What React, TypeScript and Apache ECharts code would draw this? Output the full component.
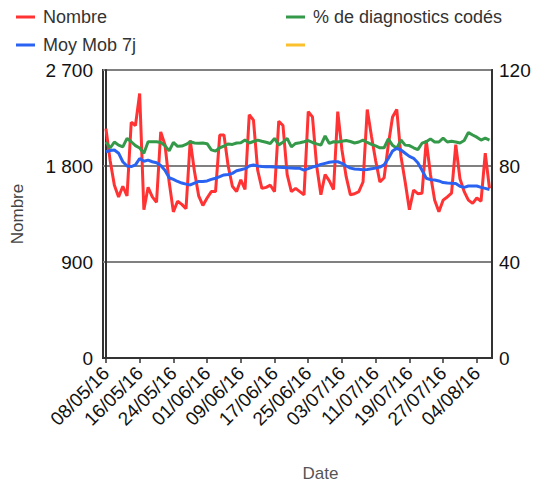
import React, { useEffect, useRef } from "react";
import * as echarts from "echarts";

// Daily counts ("Nombre"), from 08/05/16 to 07/08/16
const nombre = [
  2150, 1850, 1620, 1510, 1610, 1520, 2210, 2180, 2480, 1390,
  1600, 1510, 1460, 2120, 2000, 1650, 1370, 1470, 1440, 1400,
  2040, 1750, 1520, 1430, 1500, 1560, 1560, 2090, 2090, 1800,
  1610, 1560, 1670, 1580, 2280, 2230, 1760, 1590, 1600, 1620,
  1560, 2220, 2180, 1720, 1560, 1590, 1560, 1530, 2310, 2260,
  1800, 1530, 1720, 1660, 1580, 2310, 1950, 1700, 1530, 1540,
  1560, 1650, 2330, 2080, 1850, 1650, 1690, 2000, 2260, 2330,
  1890, 1650, 1390, 1575, 1540, 1545, 2040, 1720, 1480, 1370,
  1480, 1510, 1545, 2000, 1680, 1560, 1480, 1450, 1500, 1470,
  1920, 1590,
];

// 7-day moving average ("Moy Mob 7j")
const moyMob = [
  1934, 1945, 1950, 1920, 1840, 1800, 1795, 1810, 1870, 1845,
  1855, 1840, 1830, 1805, 1760, 1690, 1675, 1655, 1640, 1630,
  1622, 1640, 1655, 1655, 1660, 1675, 1685, 1700, 1716, 1720,
  1731, 1755, 1765, 1775, 1800, 1810, 1800, 1795, 1794, 1792,
  1790, 1788, 1787, 1784, 1782, 1780, 1778, 1762, 1775, 1790,
  1800, 1815, 1825, 1835, 1840, 1840, 1825, 1800, 1780, 1772,
  1770, 1765, 1768, 1775, 1780, 1790, 1810, 1870, 1940, 1966,
  1950, 1920, 1890, 1872, 1830, 1760, 1685, 1672, 1668, 1660,
  1645, 1640, 1638, 1637, 1610, 1600, 1612, 1612, 1612, 1600,
  1590, 1580,
];

// % de diagnostics codés (right axis)
const pctCodes = [
  90.0, 87.5, 90.0, 88.7, 88.0, 91.5, 90.1, 88.5, 87.5, 85.3,
  90.1, 90.1, 90.1, 89.8, 88.5, 86.3, 89.8, 88.2, 88.3, 89.0,
  90.1, 89.6, 89.5, 89.6, 89.3, 86.7, 86.2, 87.6, 88.3, 89.2,
  89.0, 89.6, 89.7, 90.8, 89.6, 90.2, 90.8, 90.3, 89.9, 89.4,
  91.5, 88.8, 89.9, 91.5, 88.0, 89.4, 89.7, 90.1, 90.6, 89.8,
  89.2, 88.7, 92.5, 89.4, 90.1, 90.0, 90.3, 90.6, 90.2, 89.6,
  90.0, 90.8, 89.8, 89.0, 88.4, 87.6, 87.6, 91.3, 88.6, 87.4,
  90.8, 88.7, 88.5, 87.6, 86.8, 89.5, 90.1, 91.3, 90.0, 90.0,
  91.6, 90.0, 90.3, 90.0, 89.6, 90.6, 94.0, 92.9, 92.0, 90.8,
  91.6, 90.8,
];

// Tick labels every 8 days (day index from 08/05/16)
const tickIndex = [0, 8, 16, 24, 32, 40, 48, 56, 64, 72, 80, 88];
const tickLabels = [
  "08/05/16", "16/05/16", "24/05/16", "01/06/16", "09/06/16", "17/06/16",
  "25/06/16", "03/07/16", "11/07/16", "19/07/16", "27/07/16", "04/08/16",
];

const leftTicks = [0, 900, 1800, 2700];
const rightTicks = [0, 40, 80, 120];

const FONT = "'Liberation Sans', Arial, sans-serif";

export default function App() {
  const ref = useRef<HTMLDivElement>(null);

  useEffect(() => {
    if (!ref.current) return;
    const chart = echarts.init(ref.current, null, { renderer: "svg" });
    const toPairs = (arr: number[]) => arr.map((v, i) => [i, v]);
    const fmtThousands = (v: number) =>
      String(v).replace(/\B(?=(\d{3})+(?!\d))/g, " ");

    const legendText = {
      fontSize: 18,
      color: "#333",
      fontFamily: FONT,
      lineHeight: 20,
      padding: [0, 0, 0, 3],
    };

    chart.setOption({
      animation: false,
      backgroundColor: "#fff",
      textStyle: { fontFamily: FONT },
      legend: [
        {
          orient: "vertical",
          left: 16,
          top: 7,
          padding: 0,
          itemWidth: 19,
          itemHeight: 3,
          itemGap: 8,
          icon: "rect",
          data: ["Nombre", "Moy Mob 7j"],
          textStyle: legendText,
        },
        {
          orient: "vertical",
          left: 286,
          top: 7,
          padding: 0,
          itemWidth: 19,
          itemHeight: 3,
          itemGap: 8,
          icon: "rect",
          data: ["% de diagnostics codés", " "],
          textStyle: legendText,
        },
      ],
      grid: {
        left: 103,
        right: 43,
        top: 70,
        bottom: 129,
        show: true,
        borderColor: "#333",
        borderWidth: 2,
        containLabel: false,
        outerBoundsMode: "none",
      },
      xAxis: {
        type: "value",
        min: -0.7,
        max: 91.6,
        name: "Date",
        nameLocation: "middle",
        nameGap: 107,
        nameTextStyle: {
          fontSize: 17,
          color: "#555",
          fontFamily: FONT,
          padding: [0, 0, 0, 46],
        },
        splitLine: { show: false },
        axisLine: { show: true, lineStyle: { color: "#333", width: 2 } },
        axisTick: {
          show: true,
          length: 5,
          customValues: tickIndex,
          lineStyle: { color: "#333", width: 1.5 },
        },
        axisLabel: {
          customValues: tickIndex,
          rotate: 45,
          margin: 12,
          fontSize: 19,
          color: "#111",
          fontFamily: FONT,
          formatter: (v: number) => tickLabels[tickIndex.indexOf(Math.round(v))] ?? "",
        },
      },
      yAxis: [
        {
          type: "value",
          min: leftTicks[0],
          max: leftTicks[leftTicks.length - 1],
          interval: 900,
          name: "Nombre",
          nameLocation: "middle",
          nameGap: 77,
          nameTextStyle: { fontSize: 17, color: "#444", fontFamily: FONT },
          axisLine: { show: true, lineStyle: { color: "#333", width: 2 } },
          axisTick: { show: false },
          axisLabel: {
            fontSize: 19,
            color: "#111",
            margin: 10,
            fontFamily: FONT,
            formatter: (v: number) => fmtThousands(v),
          },
          splitLine: { show: true, lineStyle: { color: "#808080", width: 2 } },
        },
        {
          type: "value",
          min: rightTicks[0],
          max: rightTicks[rightTicks.length - 1],
          interval: 40,
          position: "right",
          axisLine: { show: true, lineStyle: { color: "#333", width: 2 } },
          axisTick: { show: false },
          axisLabel: {
            fontSize: 19,
            color: "#111",
            margin: 7,
            fontFamily: FONT,
          },
          splitLine: { show: false },
        },
      ],
      series: [
        {
          name: "Nombre",
          type: "line",
          yAxisIndex: 0,
          data: toPairs(nombre),
          showSymbol: false,
          color: "#ff3333",
          lineStyle: { width: 3, color: "#ff3333" },
        },
        {
          name: "% de diagnostics codés",
          type: "line",
          yAxisIndex: 1,
          data: toPairs(pctCodes),
          showSymbol: false,
          color: "#349a4a",
          lineStyle: { width: 3, color: "#349a4a" },
        },
        {
          name: "Moy Mob 7j",
          type: "line",
          yAxisIndex: 0,
          data: toPairs(moyMob),
          showSymbol: false,
          color: "#2a62f2",
          lineStyle: { width: 3, color: "#2a62f2" },
        },
        {
          name: " ",
          type: "line",
          yAxisIndex: 1,
          data: [],
          showSymbol: false,
          color: "#fbc02d",
          lineStyle: { width: 3, color: "#fbc02d" },
        },
      ],
    });

    return () => chart.dispose();
  }, []);

  return (
    <div
      ref={ref}
      style={{ position: "absolute", left: 0, top: 0, width: 535, height: 487 }}
    />
  );
}
